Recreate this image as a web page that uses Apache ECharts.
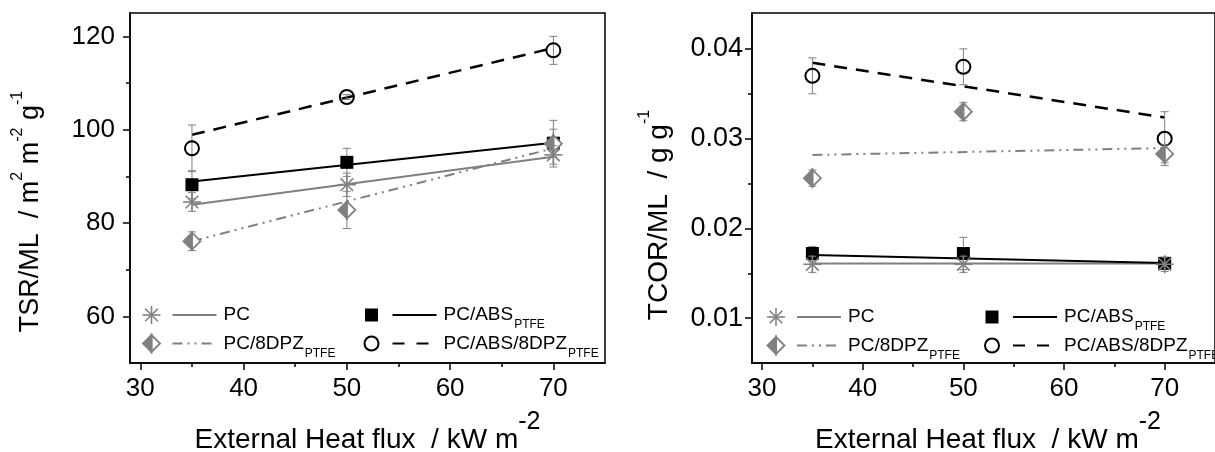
<!DOCTYPE html>
<html>
<head>
<meta charset="utf-8">
<script src="https://cdn.jsdelivr.net/npm/echarts@6/dist/echarts.min.js"></script>
<style>
  html, body { margin: 0; padding: 0; background: #fff; }
  #chart { width: 1215px; height: 452px; }
</style>
</head>
<body>
<div id="chart"></div>
<script>
// ---- data ---------------------------------------------------------------
const heatFlux = [35, 50, 70];          // kW m-2
const fitFlux = [35, 70];               // end points of the trend lines

// Total smoke release per mass loss, m2 m-2 g-1
const tsrPC = [84.5, 88.2, 94.6];
const tsrPCErr = [2, 2.5, 2];
const tsrPCABS = [88.2, 93.0, 97.1];
const tsrPCABSErr = [3, 3, 3];
const tsr8DPZ = [76.1, 82.8, 97.0];
const tsr8DPZErr = [2, 4, 5];
const tsrABS8DPZ = [96.0, 107.0, 117.0];
const tsrABS8DPZErr = [5, 0.5, 3];
const tsrPCFit = [83.9, 94.2];
const tsrPCABSFit = [88.9, 97.2];
const tsr8DPZFit = [76.1, 96.0];
const tsrABS8DPZFit = [98.9, 117.5];

// Total CO release per mass loss, g g-1
const tcorPC = [0.0160, 0.0160, 0.0160];
const tcorPCErr = [0.0009, 0.0009, 0.0008];
const tcorPCABS = [0.0172, 0.0172, 0.0161];
const tcorPCABSErr = [0.0008, 0.0018, 0.0006];
const tcor8DPZ = [0.0256, 0.0330, 0.0283];
const tcor8DPZErr = [0.0009, 0.0010, 0.0010];
const tcorABS8DPZ = [0.0370, 0.0380, 0.0300];
const tcorABS8DPZErr = [0.002, 0.002, 0.003];
const tcorPCFit = [0.0161, 0.0161];
const tcorPCABSFit = [0.01704, 0.01615];
const tcor8DPZFit = [0.02818, 0.02895];
const tcorABS8DPZFit = [0.03845, 0.03236];

// ticks
const xTicks = [30, 40, 50, 60, 70];
const xMinorTicks = [35, 45, 55, 65];
const tsrTicks = [60, 80, 100, 120];
const tsrMinorTicks = [70, 90, 110];
const tcorTicks = [0.01, 0.02, 0.03, 0.04];
const tcorMinorTicks = [0.015, 0.025, 0.035];

// ---- styling helpers ----------------------------------------------------
const FONT = "'Liberation Sans', Arial, sans-serif";
const GREY = '#808080';
const BLACK = '#000';
const DASH_DOT_DOT = [10, 5, 2, 5, 2, 5];
const DASH = [13, 9];

function seg(x1, y1, x2, y2, stroke, lineWidth) {
  return { type: 'line', shape: { x1, y1, x2, y2 }, style: { stroke, lineWidth, fill: null } };
}

// marker glyphs, shared by the plot symbols and the legend
function markerShapes(kind, cx, cy) {
  if (kind === 'star') {
    const r = 9, d = r * 0.7;
    return [
      seg(cx, cy - r, cx, cy + r, GREY, 1.6),
      seg(cx - r, cy, cx + r, cy, GREY, 1.6),
      seg(cx - d, cy - d, cx + d, cy + d, GREY, 1.6),
      seg(cx - d, cy + d, cx + d, cy - d, GREY, 1.6)
    ];
  }
  if (kind === 'square') {
    return [{ type: 'rect', shape: { x: cx - 6.5, y: cy - 6.5, width: 13, height: 13 },
              style: { fill: BLACK, stroke: null } }];
  }
  if (kind === 'diamond') {
    const r = 8.5;
    return [
      { type: 'polygon', shape: { points: [[cx, cy - r], [cx + r, cy], [cx, cy + r]] },
        style: { fill: '#fff', stroke: GREY, lineWidth: 1.8 } },
      { type: 'polygon', shape: { points: [[cx, cy - r], [cx - r, cy], [cx, cy + r]] },
        style: { fill: GREY, stroke: GREY, lineWidth: 1.8 } }
    ];
  }
  // open circle
  return [{ type: 'circle', shape: { cx, cy, r: 7 },
            style: { fill: null, stroke: BLACK, lineWidth: 2 } }];
}

// symbols with vertical error bars
function markerSeries(name, kind, ys, errs, axis) {
  return {
    type: 'custom',
    name,
    xAxisIndex: axis,
    yAxisIndex: axis,
    clip: false,
    z: 4,
    silent: true,
    data: heatFlux.map((x, i) => [x, ys[i], errs[i]]),
    renderItem(params, api) {
      const x = api.value(0), y = api.value(1), e = api.value(2);
      const c = api.coord([x, y]);
      const hi = api.coord([x, y + e])[1];
      const lo = api.coord([x, y - e])[1];
      const cap = 4;
      return {
        type: 'group',
        children: [
          seg(c[0], hi, c[0], lo, GREY, 1),
          seg(c[0] - cap, hi, c[0] + cap, hi, GREY, 1),
          seg(c[0] - cap, lo, c[0] + cap, lo, GREY, 1)
        ].concat(markerShapes(kind, c[0], c[1]))
      };
    }
  };
}

// straight trend lines between 35 and 70 kW m-2
function fitSeries(name, vals, color, width, dash, axis) {
  return {
    type: 'line',
    name,
    xAxisIndex: axis,
    yAxisIndex: axis,
    data: fitFlux.map((x, i) => [x, vals[i]]),
    symbol: 'none',
    silent: true,
    z: 3,
    lineStyle: { color, width, type: dash || 'solid' },
    animation: false
  };
}

function mainX(gridIndex) {
  return {
    type: 'value', gridIndex, min: 29, max: 75, position: 'bottom',
    axisLine: { show: true, onZero: false, lineStyle: { color: BLACK, width: 1.5 } },
    axisTick: { show: true, customValues: xTicks, length: 7, lineStyle: { color: BLACK, width: 1.5 } },
    axisLabel: { customValues: xTicks, fontSize: 26, color: BLACK, fontFamily: FONT, margin: 13 },
    splitLine: { show: false }
  };
}
function minorX(gridIndex) {
  return {
    type: 'value', gridIndex, min: 29, max: 75, position: 'bottom',
    axisLine: { show: false },
    axisTick: { show: true, customValues: xMinorTicks, length: 4, lineStyle: { color: BLACK, width: 1.5 } },
    axisLabel: { show: false },
    splitLine: { show: false }
  };
}
function mainY(gridIndex, min, max, ticks, margin, fontSize, fmt) {
  return {
    type: 'value', gridIndex, min, max, position: 'left',
    axisLine: { show: true, onZero: false, lineStyle: { color: BLACK, width: 1.5 } },
    axisTick: { show: true, customValues: ticks, length: 7, lineStyle: { color: BLACK, width: 1.5 } },
    axisLabel: { customValues: ticks, fontSize, color: BLACK, fontFamily: FONT, margin, formatter: fmt },
    splitLine: { show: false }
  };
}
function minorY(gridIndex, min, max, ticks) {
  return {
    type: 'value', gridIndex, min, max, position: 'left',
    axisLine: { show: false },
    axisTick: { show: true, customValues: ticks, length: 4, lineStyle: { color: BLACK, width: 1.5 } },
    axisLabel: { show: false },
    splitLine: { show: false }
  };
}

// ---- titles and legends -------------------------------------------------
const xTitleRich = {
  m: { fontSize: 28, fontFamily: FONT, color: BLACK },
  sup: { fontSize: 25, fontFamily: FONT, color: BLACK, padding: [0, 0, 36, 0] }
};
const yTitleRichL = {
  m: { fontSize: 27, fontFamily: FONT, color: BLACK },
  sup: { fontSize: 16, fontFamily: FONT, color: BLACK, padding: [0, 0, 27, 0] }
};
const yTitleRichR = {
  m: { fontSize: 28, fontFamily: FONT, color: BLACK },
  sup: { fontSize: 16, fontFamily: FONT, color: BLACK, padding: [0, 0, 28, 0] }
};
const legendRich = {
  m: { fontSize: 19, fontFamily: FONT, color: BLACK },
  s: { fontSize: 12, fontFamily: FONT, color: BLACK, padding: [20, 0, 0, 1] }
};

function textEl(x, y, text, rich, rotation) {
  return {
    type: 'text', x, y, rotation: rotation || 0, silent: true,
    style: { text, rich, align: 'center', verticalAlign: 'middle',
             textAlign: 'center', textVerticalAlign: 'middle' }
  };
}

const legendItems = [
  { kind: 'star', color: GREY, dash: null, label: '{m|PC}', col: 0, row: 0 },
  { kind: 'square', color: BLACK, dash: null, label: '{m|PC/ABS}{s|PTFE}', col: 1, row: 0 },
  { kind: 'diamond', color: GREY, dash: DASH_DOT_DOT, label: '{m|PC/8DPZ}{s|PTFE}', col: 0, row: 1 },
  { kind: 'circle', color: BLACK, dash: [12, 12], label: '{m|PC/ABS/8DPZ}{s|PTFE}', col: 1, row: 1 }
];

function legendBlock(ox, oy, colGap) {
  const els = [];
  legendItems.forEach(it => {
    const cx = ox + it.col * colGap;
    const cy = oy + it.row * 28.5;
    markerShapes(it.kind, cx, cy).forEach(s => els.push(s));
    els.push({
      type: 'line', silent: true,
      shape: { x1: cx + 21, y1: cy, x2: cx + 65, y2: cy },
      style: { stroke: it.color, lineWidth: 2, lineDash: it.dash || null }
    });
    els.push({
      type: 'text', x: cx + 72, y: cy, silent: true,
      style: { text: it.label, rich: legendRich, align: 'left', verticalAlign: 'middle',
               textAlign: 'left', textVerticalAlign: 'middle' }
    });
  });
  return els;
}

const graphics = [
  textEl(367.5, 440.5, '{m|External Heat flux  / kW m}{sup|-2}', xTitleRich),
  textEl(988, 440.5, '{m|External Heat flux  / kW m}{sup|-2}', xTitleRich),
  textEl(31, 211.5, '{m|TSR/ML  / m}{sup|2}{m| m}{sup|-2}{m| g}{sup|-1}', yTitleRichL, Math.PI / 2),
  textEl(659, 215, '{m|TCOR/ML  / g g}{sup|-1}', yTitleRichR, Math.PI / 2)
].concat(legendBlock(151.5, 315, 220), legendBlock(776, 317, 216));

// ---- chart --------------------------------------------------------------
const chart = echarts.init(document.getElementById('chart'), null, { renderer: 'canvas' });
chart.setOption({
  animation: false,
  backgroundColor: '#fff',
  grid: [
    { left: 130, top: 13, width: 475, height: 350, show: true, borderColor: BLACK, borderWidth: 1.5 },
    { left: 752, top: 13, width: 473, height: 350, show: true, borderColor: BLACK, borderWidth: 1.5 }
  ],
  xAxis: [mainX(0), minorX(0), mainX(1), minorX(1)],
  yAxis: [
    mainY(0, 50, 125, tsrTicks, 15, 26, v => String(v)),
    minorY(0, 50, 125, tsrMinorTicks),
    mainY(1, 0.005, 0.044, tcorTicks, 9, 27, v => v.toFixed(2)),
    minorY(1, 0.005, 0.044, tcorMinorTicks)
  ],
  series: [
    fitSeries('PC', tsrPCFit, GREY, 2, null, 0),
    fitSeries('PC/8DPZ', tsr8DPZFit, GREY, 2, DASH_DOT_DOT, 0),
    fitSeries('PC/ABS', tsrPCABSFit, BLACK, 2, null, 0),
    fitSeries('PC/ABS/8DPZ', tsrABS8DPZFit, BLACK, 2.5, DASH, 0),
    markerSeries('PC/ABS', 'square', tsrPCABS, tsrPCABSErr, 0),
    markerSeries('PC/ABS/8DPZ', 'circle', tsrABS8DPZ, tsrABS8DPZErr, 0),
    markerSeries('PC/8DPZ', 'diamond', tsr8DPZ, tsr8DPZErr, 0),
    markerSeries('PC', 'star', tsrPC, tsrPCErr, 0),

    fitSeries('PC', tcorPCFit, GREY, 2, null, 2),
    fitSeries('PC/8DPZ', tcor8DPZFit, GREY, 2, DASH_DOT_DOT, 2),
    fitSeries('PC/ABS', tcorPCABSFit, BLACK, 2, null, 2),
    fitSeries('PC/ABS/8DPZ', tcorABS8DPZFit, BLACK, 2.5, DASH, 2),
    markerSeries('PC/ABS', 'square', tcorPCABS, tcorPCABSErr, 2),
    markerSeries('PC/ABS/8DPZ', 'circle', tcorABS8DPZ, tcorABS8DPZErr, 2),
    markerSeries('PC/8DPZ', 'diamond', tcor8DPZ, tcor8DPZErr, 2),
    markerSeries('PC', 'star', tcorPC, tcorPCErr, 2)
  ],
  graphic: { elements: graphics }
});
</script>
</body>
</html>
